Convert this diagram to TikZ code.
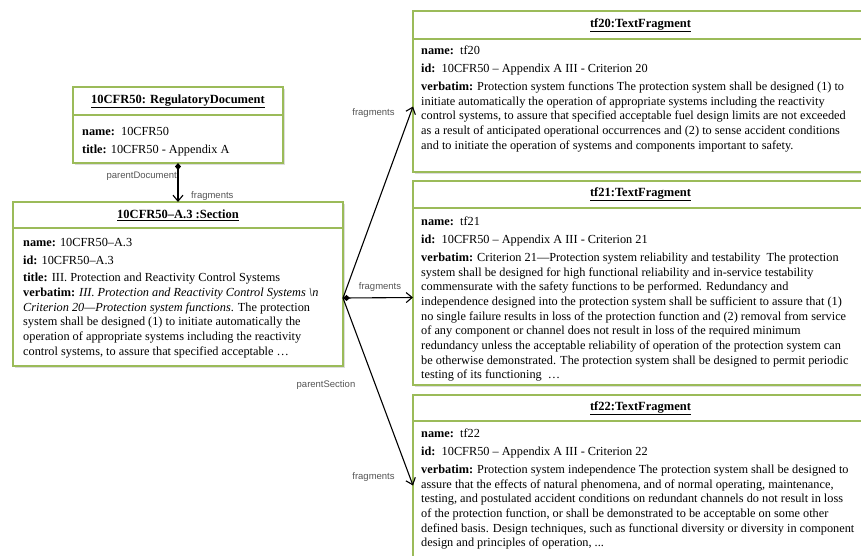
\documentclass[tikz,border=0pt]{standalone}
\usepackage{fontspec}
\setmainfont{Liberation Serif}
\newfontfamily\lblfont{Liberation Sans}
\usetikzlibrary{arrows.meta,shadows}
\definecolor{boxgreen}{RGB}{155,187,89}
\definecolor{lblgray}{RGB}{85,85,85}
\tikzset{
 umlbox/.style={draw=boxgreen, line width=1.5pt, fill=white, inner sep=0pt, outer sep=0pt,
   anchor=north west,
   drop shadow={shadow xshift=2pt,shadow yshift=-2pt,opacity=0.3,fill=black!45}},
 divider/.style={draw=boxgreen, line width=1.5pt},
 boxtitle/.style={font=\fontsize{12.5}{14}\selectfont\bfseries, inner sep=0pt},
 boxbody/.style={font=\fontsize{12.3}{14.7}\selectfont, align=left, inner sep=0pt, anchor=north west},
 conn/.style={draw=black, line width=1.1pt, {Diamond[length=7pt,width=6pt]}-{Straight Barb[length=6pt,width=10pt]}},
 connb/.style={draw=black, line width=1.1pt, -{Straight Barb[length=6pt,width=10pt]}},
 lbl/.style={font=\lblfont\fontsize{9.5}{11}\selectfont, text=lblgray, inner sep=0pt},
}
\begin{document}
\begin{tikzpicture}[x=1pt,y=-1pt]
\useasboundingbox (0,0) rectangle (861,555);
\clip (0,0) rectangle (861,555);
\fill[white] (0,0) rectangle (861,555);

% RegulatoryDocument
\node[umlbox, minimum width=210pt, minimum height=76pt] (rd) at (73,87) {};
\draw[divider] ([yshift=-28pt]rd.north west) -- ([yshift=-28pt]rd.north east);
\node[boxtitle] (rdt) at ([yshift=-14.5pt]rd.north) {\underline{10CFR50: RegulatoryDocument}};
\node[boxbody] (rdb) at (82,127) {\textbf{name:}\ \ 10CFR50\\[3.3pt]
\textbf{title:} 10CFR50 - Appendix A};

% Section
\node[umlbox, minimum width=330pt, minimum height=164pt] (sec) at (13,202) {};
\draw[divider] ([yshift=-26pt]sec.north west) -- ([yshift=-26pt]sec.north east);
\node[boxtitle] (sect) at ([yshift=-13.5pt]sec.north) {\underline{10CFR50–A.3 :Section}};
\node[boxbody] (secb) at (23,238) {\textbf{name:} 10CFR50–A.3\\[3pt]
\textbf{id:} 10CFR50–A.3\\[3pt]
\textbf{title:} III. Protection and Reactivity Control Systems\\
\textbf{verbatim:} \textit{III. Protection and Reactivity Control Systems \textbackslash n}\\
\textit{Criterion 20—Protection system functions}. The protection\\
system shall be designed (1) to initiate automatically the\\
operation of appropriate systems including the reactivity\\
control systems, to assure that specified acceptable …};

% tf20
\node[umlbox, minimum width=455pt, minimum height=161pt] (tf20) at (413,11) {};
\draw[divider] ([yshift=-28pt]tf20.north west) -- ([yshift=-28pt]tf20.north east);
\node[boxtitle] (tf20t) at ([yshift=-14pt]tf20.north) {\underline{tf20:TextFragment}};
\node[boxbody] (tf20b) at (421,45.5) {\textbf{name:}\ \ tf20\\[3.3pt]
\textbf{id:}\ \ 10CFR50 – Appendix A III - Criterion 20\\[3.3pt]
\textbf{verbatim:} Protection system functions The protection system shall be designed (1) to\\
initiate automatically the operation of appropriate systems including the reactivity\\
control systems, to assure that specified acceptable fuel design limits are not exceeded\\
as a result of anticipated operational occurrences and (2) to sense accident conditions\\
and to initiate the operation of systems and components important to safety.};

% tf21
\node[umlbox, minimum width=455pt, minimum height=204pt] (tf21) at (413,181) {};
\draw[divider] ([yshift=-27pt]tf21.north west) -- ([yshift=-27pt]tf21.north east);
\node[boxtitle] (tf21t) at ([yshift=-13.5pt]tf21.north) {\underline{tf21:TextFragment}};
\node[boxbody] (tf21b) at (421,216.5) {\textbf{name:}\ \ tf21\\[3.3pt]
\textbf{id:}\ \ 10CFR50 – Appendix A III - Criterion 21\\[3.3pt]
\textbf{verbatim:} Criterion 21—Protection system reliability and testability\ \ The protection\\
system shall be designed for high functional reliability and in-service testability\\
commensurate with the safety functions to be performed. Redundancy and\\
independence designed into the protection system shall be sufficient to assure that (1)\\
no single failure results in loss of the protection function and (2) removal from service\\
of any component or channel does not result in loss of the required minimum\\
redundancy unless the acceptable reliability of operation of the protection system can\\
be otherwise demonstrated. The protection system shall be designed to permit periodic\\
testing of its functioning\ \ …};

% tf22
\node[umlbox, minimum width=455pt, minimum height=180pt] (tf22) at (413,395) {};
\draw[divider] ([yshift=-26pt]tf22.north west) -- ([yshift=-26pt]tf22.north east);
\node[boxtitle] (tf22t) at ([yshift=-13pt]tf22.north) {\underline{tf22:TextFragment}};
\node[boxbody] (tf22b) at (421,428.5) {\textbf{name:}\ \ tf22\\[3.3pt]
\textbf{id:}\ \ 10CFR50 – Appendix A III - Criterion 22\\[3.3pt]
\textbf{verbatim:} Protection system independence The protection system shall be designed to\\
assure that the effects of natural phenomena, and of normal operating, maintenance,\\
testing, and postulated accident conditions on redundant channels do not result in loss\\
of the protection function, or shall be demonstrated to be acceptable on some other\\
defined basis. Design techniques, such as functional diversity or diversity in component\\
design and principles of operation, ...};

% connectors
\coordinate (sd) at ([yshift=-14pt]sec.east);
\coordinate (e20) at ([yshift=-15pt]tf20.west);
\coordinate (e21) at ([yshift=-14.5pt]tf21.west);
\coordinate (e22) at ([yshift=-0.5pt]tf22.west);
\draw[conn] (rd.south) -- (sec.north);
\draw[connb] (sd) -- (e20);
\draw[connb] (sd) -- (e22);
\draw[conn] (sd) -- (e21);

% labels
\node[lbl, anchor=east] (lpd) at (177,176) {parentDocument};
\node[lbl, anchor=west] (lf0) at (191,196) {fragments};
\node[lbl] (lps) at (326,385) {parentSection};
\node[lbl] (lf20) at (373.5,113) {fragments};
\node[lbl] (lf21) at (380,287) {fragments};
\node[lbl] (lf22) at (373.5,477) {fragments};
\end{tikzpicture}
\end{document}
